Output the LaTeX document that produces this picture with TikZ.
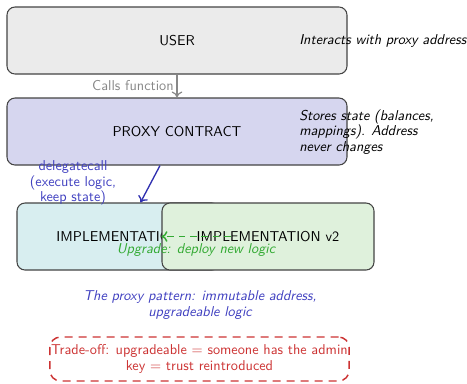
\documentclass[tikz,border=0pt]{standalone}
\usetikzlibrary{arrows.meta}
\renewcommand{\familydefault}{\sfdefault}
\definecolor{boxline}{HTML}{444444}
\definecolor{userfill}{HTML}{EBEBEB}
\definecolor{proxyfill}{HTML}{D6D6EF}
\definecolor{implfill}{HTML}{D8EEF0}
\definecolor{newfill}{HTML}{DFF1DC}
\definecolor{callgray}{HTML}{888888}
\definecolor{dcblue}{HTML}{3030B0}
\definecolor{noteblue}{HTML}{4040C0}
\definecolor{upgreen}{HTML}{33AA33}
\definecolor{warnred}{HTML}{CC3333}
\tikzset{
  block/.style={draw=boxline, line width=0.8pt, rounded corners=6pt,
    minimum height=50.25pt},
  note/.style={font=\itshape, inner sep=0pt},
  tip/.style={-{To[length=4.5pt,width=8pt]}},
}
\begin{document}
\fontsize{10.7pt}{11.6pt}\selectfont
\begin{tikzpicture}[x=0.75pt, y=-0.75pt]
\useasboundingbox (0,0) rectangle (467,383);

% main call chain
\node[block, fill=userfill, minimum width=255pt] (user) at (177,40.5) {USER};
\node[block, fill=proxyfill, minimum width=255pt] (proxy) at (177,131.5) {PROXY CONTRACT};

% logic contracts, the new one overlapping the old
\node[block, fill=implfill, minimum width=152.25pt] (impl) at (118.5,236.5) {IMPLEMENTATION};
\node[block, fill=newfill, minimum width=159pt] (impl2) at (268,236.5) {IMPLEMENTATION v2};

% side notes
\node[note, anchor=west, align=left] (unote) at (299,41) {Interacts with proxy address};
\node[note, anchor=west, align=left] (pnote) at (299,132) {Stores state (balances,\\mappings). Address\\never changes};

% connectors
\draw[callgray, line width=0.9pt, tip] (user.south) -- (proxy.north)
  node[midway, left, inner sep=2pt] (calls) {Calls function};
\draw[dcblue, line width=1pt, tip] ([xshift=-12.75pt]proxy.south) -- ([xshift=16.5pt]impl.north);
\node[anchor=center, align=center, text=noteblue, inner sep=0pt] (dclabel) at (73,183)
  {delegatecall\\(execute logic,\\keep state)};
\draw[upgreen, line width=1.1pt, dash pattern=on 5pt off 3.5pt, tip] ([xshift=7.5pt]impl.east) -- (impl2.west);
\node[note, text=upgreen] (uplabel) at (196,250) {Upgrade: deploy new logic};

% summary and caveat
\node[note, text=noteblue, align=center] (summary) at (200,305)
  {The proxy pattern: immutable address,\\upgradeable logic};
\node[draw=warnred, line width=1.1pt, dash pattern=on 6pt off 4.5pt, rounded corners=8pt,
  minimum width=224.25pt, minimum height=33pt, text=warnred, align=center, inner sep=1pt]
  (tradeoff) at (199.5,359)
  {Trade-off: upgradeable = someone has the admin\\key = trust reintroduced};
\end{tikzpicture}
\end{document}
